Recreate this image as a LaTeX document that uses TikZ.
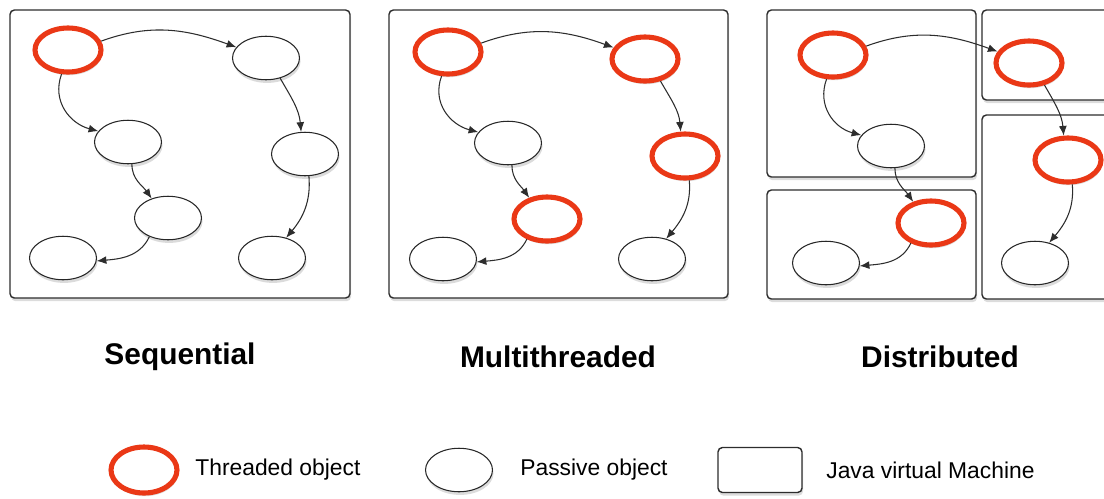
\documentclass[tikz,border=0pt]{standalone}
\usepackage{fontspec}
\setsansfont{Liberation Sans}
\usetikzlibrary{arrows.meta, shapes.geometric, shadows}

\definecolor{threadred}{RGB}{234,56,22}
\definecolor{edgegray}{RGB}{45,45,45}

\begin{document}
\begin{tikzpicture}[x=0.02cm, y=0.02cm, font=\sffamily,
  >={Latex[length=5.5pt,width=4.5pt]},
  softshadow/.style={drop shadow={opacity=0.28, shadow xshift=0.6pt, shadow yshift=-1.8pt}},
  obj/.style={ellipse, inner sep=0pt, fill=white, softshadow},
  passive/.style={obj, draw=black!85, line width=0.6pt,
    minimum width=1.34cm, minimum height=0.87cm},
  threaded/.style={obj, draw=threadred, line width=2.9pt,
    minimum width=1.32cm, minimum height=0.88cm},
  jvm/.style={draw=edgegray, line width=0.8pt, rounded corners=2.5pt,
    fill=white, softshadow},
  link/.style={->, draw=edgegray, line width=0.6pt},
  title/.style={font=\sffamily\bfseries\fontsize{17}{20}\selectfont},
  legend/.style={font=\sffamily\fontsize{13}{15}\selectfont, anchor=west, inner sep=0pt}]

\useasboundingbox (0,0) rectangle (1104,-498);
\clip (0,0) rectangle (1104,-498);

% virtual machines
\draw[jvm] (10,-10) rectangle (350,-298);
\draw[jvm] (389,-10) rectangle (728,-298);
\draw[jvm] (767,-10) rectangle (976,-177);
\draw[jvm] (767,-190) rectangle (976,-299);
\draw[jvm] (982,-10) rectangle (1120,-100);
\draw[jvm] (982,-115) rectangle (1120,-299);

% Sequential
\foreach \n/\x/\y/\kind in {T/68/50/threaded, A/266/58/passive, B/128/142/passive,
    C/305/154/passive, D/168/218/passive, E/63/258/passive, F/272/258/passive}
  \node[\kind] (s\n) at (\x,-\y) {};

% Multithreaded
\foreach \n/\x/\y/\kind in {T/448/52/threaded, A/645/59/threaded, B/508/143/passive,
    C/685/156/threaded, D/547/219/threaded, E/443/259/passive, F/652/259/passive}
  \node[\kind] (m\n) at (\x,-\y) {};

% Distributed
\foreach \n/\x/\y/\kind in {T/833/55/threaded, A/1029/63/threaded, B/891/146/passive,
    C/1068/160/threaded, D/931/223/threaded, E/826/263/passive, F/1035/263/passive}
  \node[\kind] (d\n) at (\x,-\y) {};

\foreach \p in {s,m,d}{
  \draw[link] (\p T.15)  to[out=20, in=160]  (\p A.160);
  \draw[link] (\p T.255) to[out=250, in=165, looseness=1.1] (\p B.160);
  \draw[link] (\p A.305) to[out=-60, in=95]  (\p C.100);
  \draw[link] (\p B.280) to[out=-90, in=125] (\p D.130);
  \draw[link] (\p C.280) to[out=-85, in=50]  (\p F.55);
  \draw[link] (\p D.225) to[out=-115, in=5]  (\p E.-5);
}

\node[title] (tSeq) at (180,-357) {Sequential};
\node[title] (tMul) at (558,-357) {Multithreaded};
\node[title] (tDis) at (940,-357) {Distributed};

% legend
\node[threaded, minimum width=1.32cm, minimum height=0.92cm] (lgT) at (144,-470) {};
\node[legend] (lgTt) at (195,-470) {Threaded object};
\node[passive] (lgP) at (459,-470) {};
\node[legend] (lgPt) at (520,-470) {Passive object};
\node[jvm, minimum width=1.68cm, minimum height=0.9cm] (lgJ) at (760,-470) {};
\node[legend] (lgJt) at (826,-470) {Java virtual Machine};

\end{tikzpicture}
\end{document}
